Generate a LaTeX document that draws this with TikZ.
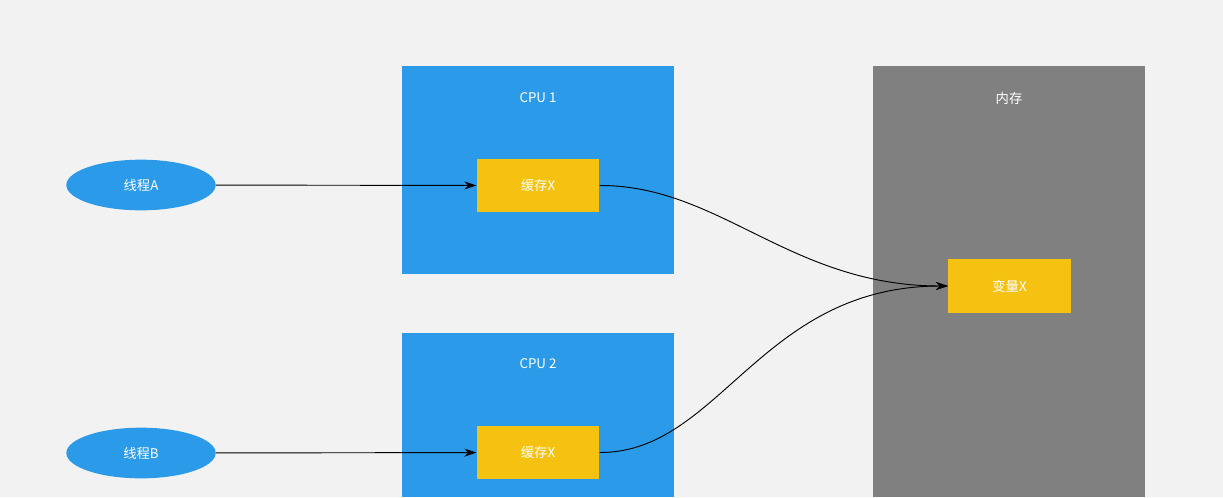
\documentclass[tikz,border=0pt]{standalone}
\usepackage{fontspec}
\setmainfont{Noto Sans CJK SC}
\usetikzlibrary{shapes.geometric,arrows.meta}
\definecolor{bg}{HTML}{F2F2F2}
\definecolor{blu}{HTML}{2B9AE8}
\definecolor{gry}{HTML}{808080}
\definecolor{yel}{HTML}{F5C211}
\begin{document}
\begin{tikzpicture}[x=0.75pt,y=-0.75pt,
  box/.style={fill=yel,draw=none,minimum width=92pt,minimum height=40pt,text=white,font=\fontsize{10}{12}\selectfont},
  th/.style={ellipse,fill=blu,draw=none,minimum width=112pt,minimum height=38pt,text=white,font=\fontsize{10}{12}\selectfont},
  lab/.style={text=white,font=\fontsize{10}{12}\selectfont},
  arr/.style={-{Stealth[length=9pt,width=6pt]},black,line width=0.7pt}]
\fill[bg] (0,0) rectangle (1223,497);
\useasboundingbox (0,0) rectangle (1223,497);
\fill[blu] (402,66) rectangle (674,274);
\fill[blu] (402,333) rectangle (674,497);
\fill[gry] (873,66) rectangle (1145,497);
\node[lab] (c1) at (538,98) {CPU 1};
\node[lab] (c2) at (538,364) {CPU 2};
\node[lab] (m) at (1009,98) {内存};
\node[box] (x1) at (538,185.5) {缓存X};
\node[box] (x2) at (538,452.5) {缓存X};
\node[box] (v) at (1009.5,286) {变量X};
\node[th] (a) at (141,185) {线程A};
\node[th] (b) at (141,453) {线程B};
\draw[arr] (a) -- (x1);
\draw[arr] (b) -- (x2);
\draw[arr] (x1.east) .. controls (720,185) and (790,286) .. (v.west);
\draw[arr] (x2.east) .. controls (720,453) and (760,286) .. (v.west);
\end{tikzpicture}
\end{document}
